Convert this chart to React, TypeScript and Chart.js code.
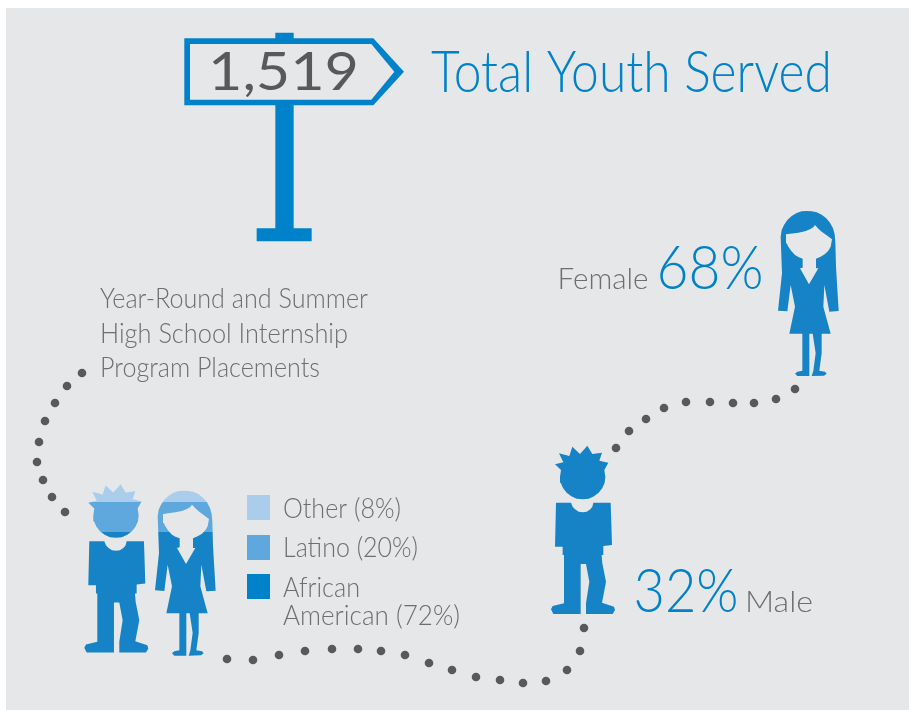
import React, { useEffect, useRef } from "react";
import { Chart, registerables } from "chart.js";

Chart.register(...registerables);

// ---- values shown by the infographic ----
const totalYouth = "1,519";
const femalePct = 68;
const malePct = 32;
const ethnicityLabels = ["Other", "Latino", "African American"];
const ethnicityPct = [8, 20, 72];

// ---- dotted trail ----
const trailUpper = [[82,373],[67,386],[55,403],[45,421],[39,442],[37,462],[43,480],[52,497],[65,512]];
const trailLower = [[227,659],[253,660],[279,655],[305,651],[332,649],[358,649],[381,651],[405,655],[429,663],[452,670],[476,677],[500,680],[523,683],[546,681],[567,670],[580,651],[584,628]];
const trailRight = [[616,448],[629,431],[646,419],[664,408],[686,402],[710,402],[733,403],[754,403],[776,399],[795,389]];

// ---- pictogram outlines (in thirds of a pixel) ----
const femaleOutline = [[140,33],[155,34],[170,37],[185,44],[198,54],[210,68],[219,85],[224,103],[226,125],[228,200],[236,333],[208,335],[193,255],[190,320],[212,401],[185,401],[185,460],[178,512],[195,515],[200,521],[192,527],[155,528],[160,512],[167,460],[158,401],[148,401],[148,528],[112,528],[105,521],[112,515],[127,512],[127,401],[88,401],[105,320],[92,255],[82,334],[54,332],[66,220],[62,110],[65,90],[72,75],[82,60],[95,48],[110,39],[125,34]];
const femaleFace = [[78,103],[115,98],[135,94],[150,88],[160,82],[165,75],[175,86],[185,95],[200,106],[216,118],[212,140],[205,152],[195,162],[182,170],[168,176],[168,205],[175,205],[147,253],[120,205],[128,203],[128,176],[115,171],[105,165],[94,153],[85,140],[80,130],[78,120]];
const maleHair = [[45,103],[70,97],[57,70],[88,78],[97,50],[120,72],[142,47],[157,72],[186,68],[178,92],[205,98],[193,120]];
const maleChin = [[196,140],[194,158],[187,174],[176,188],[162,199],[146,206],[128,208],[110,206],[94,199],[80,188],[69,174],[62,158],[60,140],[63,120]];
const maleBody = [[48,218],[93,218],[98,230],[105,238],[116,245],[128,247],[140,245],[151,238],[157,230],[160,218],[212,218],[216,345],[190,348],[190,375],[185,375],[187,400],[198,455],[186,518],[222,530],[225,540],[218,552],[138,552],[138,520],[148,455],[138,402],[122,402],[122,552],[40,552],[33,538],[38,528],[72,520],[72,375],[68,375],[68,350],[45,350]];
const signPost = [[316,38],[371,38],[371,625],[425,625],[425,664],[260,664],[260,625],[316,625]];
const signOuter = [[43,55],[610,55],[702,155],[610,256],[43,256]];
const signInner = [[60,72],[604,72],[673,155],[604,239],[60,239]];

const BG = "#e6e7e8";
const BLUE = "#0082ca";
const FIG = "#1583c6";
const LIGHT = "#aacdec";
const MID = "#5ea8dd";
const GREY = "#58595b";
const TEXT = "#6d6e71";
const FONT = "Lato";

const place = (s: number[][], ox: number, oy: number) => s.map(([x, y]) => ({ x: x / 3 + ox, y: y / 3 + oy }));
const rect = (x0: number, y0: number, x1: number, y1: number) => [{ x: x0, y: y0 }, { x: x1, y: y0 }, { x: x1, y: y1 }, { x: x0, y: y1 }];
const pts = (s: number[][]) => s.map(([x, y]) => ({ x, y }));

const shape = (data: { x: number; y: number }[], color: any) => ({
  type: "line",
  data,
  fill: "shape",
  backgroundColor: color,
  borderColor: color,
  borderWidth: 0,
  pointRadius: 0,
  tension: 0,
});

type Label = { t: string; x: number; y: number; w: number; size: number; color: string; weight?: number };
const labels: Label[] = [
  { t: totalYouth, x: 208, y: 90, w: 151, size: 53, color: GREY, weight: 400 },
  { t: "Total Youth Served", x: 431, y: 92, w: 401, size: 58, color: BLUE },
  { t: "Year-Round and Summer", x: 100, y: 308, w: 268, size: 27, color: TEXT },
  { t: "High School Internship", x: 100, y: 343, w: 248, size: 27, color: TEXT },
  { t: "Program Placements", x: 100, y: 377, w: 220, size: 27, color: TEXT },
  { t: "Female", x: 557.5, y: 289, w: 91, size: 30, color: TEXT },
  { t: `${femalePct}%`, x: 656.5, y: 289, w: 107, size: 62, color: BLUE },
  { t: `${malePct}%`, x: 633.5, y: 612, w: 105, size: 62, color: BLUE },
  { t: "Male", x: 745, y: 612, w: 68, size: 30, color: TEXT },
  { t: `${ethnicityLabels[0]} (${ethnicityPct[0]}%)`, x: 283, y: 518, w: 118, size: 27, color: TEXT },
  { t: `${ethnicityLabels[1]} (${ethnicityPct[1]}%)`, x: 283, y: 557, w: 135, size: 27, color: TEXT },
  { t: "African", x: 283, y: 597, w: 77, size: 27, color: TEXT },
  { t: `American (${ethnicityPct[2]}%)`, x: 283, y: 625, w: 177, size: 27, color: TEXT },
];

const textPlugin = {
  id: "infographicText",
  afterDatasetsDraw(chart: any) {
    const { ctx, scales } = chart;
    ctx.textBaseline = "alphabetic";
    ctx.textAlign = "left";
    for (const l of labels) {
      ctx.save();
      ctx.font = `${l.weight ?? 300} ${l.size}px ${FONT}`;
      ctx.fillStyle = l.color;
      const k = l.w / ctx.measureText(l.t).width;
      ctx.translate(scales.x.getPixelForValue(l.x), scales.y.getPixelForValue(l.y));
      ctx.scale(k, 1);
      ctx.fillText(l.t, 0, 0);
      ctx.restore();
    }
  },
};

export default function App() {
  const ref = useRef<HTMLCanvasElement>(null);
  useEffect(() => {
    const canvas = ref.current!;
    const c2d = canvas.getContext("2d")!;
    // Bands of the pair pictogram follow the ethnicity shares
    const bandTop = 490, bandBottom = 640;
    const grad = c2d.createLinearGradient(0, bandTop, 0, bandBottom);
    const a = ethnicityPct[0] / 100, b = (ethnicityPct[0] + ethnicityPct[1]) / 100;
    grad.addColorStop(0, LIGHT); grad.addColorStop(a, LIGHT);
    grad.addColorStop(a, MID); grad.addColorStop(b, MID);
    grad.addColorStop(b, FIG); grad.addColorStop(1, FIG);

    const maleHead = [...maleHair, ...maleChin];
    // painted back to front
    const layers: any[] = [
      shape(place(signPost, 170, 20), BLUE),
      shape(place(signOuter, 170, 20), BLUE),
      shape(place(signInner, 170, 20), BG),
      shape(rect(247, 495, 270, 520), LIGHT),
      shape(rect(247, 535, 270, 560), MID),
      shape(rect(247, 574, 270, 599), BLUE),
      shape(place(femaleOutline, 760, 200), FIG),
      shape(place(femaleFace, 760, 200), BG),
      shape(place(maleHead, 540, 430), FIG),
      shape(place(maleBody, 540, 430), FIG),
      shape(place(femaleOutline, 137, 479.7), grad),
      shape(place(femaleFace, 137, 479.7), BG),
      shape(place(maleHead, 73.3, 468.5), grad),
      shape(place(maleBody, 73.3, 468.5), grad),
    ];
    for (const trail of [trailUpper, trailLower, trailRight]) {
      layers.push({
        type: "line",
        data: pts(trail),
        showLine: false,
        pointRadius: 4.3,
        pointBackgroundColor: GREY,
        pointBorderWidth: 0,
      });
    }
    layers.forEach((l, i) => (l.order = layers.length - i));

    const chart = new Chart(canvas, {
      type: "line",
      data: { datasets: layers },
      plugins: [textPlugin],
      options: {
        animation: false,
        responsive: false,
        layout: { padding: 0, autoPadding: false },
        plugins: { legend: { display: false }, tooltip: { enabled: false }, title: { display: false } },
        scales: {
          x: { type: "linear", min: 0, max: 909, display: false },
          y: { type: "linear", min: 0, max: 710, reverse: true, display: false },
        },
      },
    } as any);
    return () => chart.destroy();
  }, []);

  return (
    <div style={{ position: "absolute", left: 0, top: 0, width: 909, height: 710, background: "#fff", overflow: "hidden" }}>
      <div style={{ position: "absolute", left: 6, top: 8, width: 903, height: 702, background: BG }} />
      <canvas ref={ref} width={909} height={710} style={{ position: "absolute", left: 0, top: 0, width: 909, height: 710 }} />
    </div>
  );
}
